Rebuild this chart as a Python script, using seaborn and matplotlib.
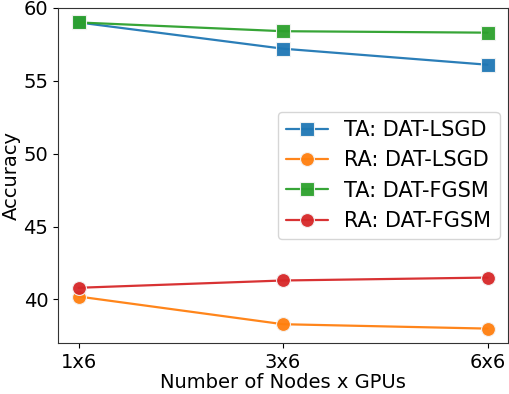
import numpy as np
import pandas as pd
import seaborn as sns
import matplotlib
matplotlib.use("Agg")
import matplotlib.pyplot as plt

nodes = ["1x6", "3x6", "6x6"]
ta_lsgd = [59.0, 57.2, 56.1]
ra_lsgd = [40.2, 38.3, 38.0]
ta_fgsm = [59.0, 58.4, 58.3]
ra_fgsm = [40.8, 41.3, 41.5]

series = [
    ("TA: DAT-LSGD", ta_lsgd, "s", "#1f77b4"),
    ("RA: DAT-LSGD", ra_lsgd, "o", "#ff7f0e"),
    ("TA: DAT-FGSM", ta_fgsm, "s", "#2ca02c"),
    ("RA: DAT-FGSM", ra_fgsm, "o", "#d62728"),
]

sns.set_style("ticks")
plt.rcParams["font.family"] = ["DejaVu Sans"]
plt.rcParams["text.color"] = "black"
plt.rcParams["axes.labelcolor"] = "black"
plt.rcParams["xtick.color"] = "black"
plt.rcParams["ytick.color"] = "black"

fig, ax = plt.subplots(figsize=(5.1, 3.94), dpi=100)
x = np.arange(len(nodes))
for name, vals, mk, col in series:
    df = pd.DataFrame({"x": x, "y": vals})
    sns.lineplot(data=df, x="x", y="y", ax=ax, color=col, label=name,
                 marker=mk, markersize=10, markeredgecolor="#f4f4f4",
                 markeredgewidth=0.8, linewidth=1.6, alpha=0.95)

ax.set_xticks(x)
ax.set_xticklabels(nodes, fontsize=14)
ax.set_xlim(-0.1, 2.1)
ax.set_ylim(37, 60)
ax.set_yticks([40, 45, 50, 55, 60])
ax.tick_params(axis="y", labelsize=14)
ax.set_xlabel("Number of Nodes x GPUs", fontsize=14, labelpad=1)
ax.set_ylabel("Accuracy", fontsize=14, labelpad=2)
for s in ax.spines.values():
    s.set_color("#333333")
ax.legend(loc="center right", bbox_to_anchor=(1.0, 0.5), fontsize=15,
          handlelength=2.0, frameon=True, borderaxespad=0.4)

fig.subplots_adjust(left=0.114, right=0.996, top=0.98, bottom=0.129)
fig.savefig("out.png", dpi=100)
